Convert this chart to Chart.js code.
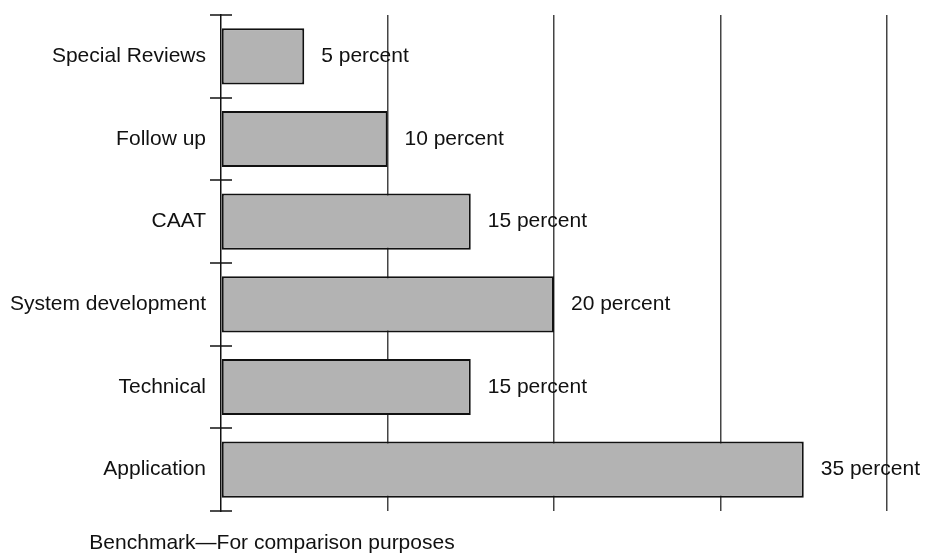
<!DOCTYPE html>
<html>
<head>
<meta charset="utf-8">
<script src="https://cdn.jsdelivr.net/npm/chart.js@4/dist/chart.umd.min.js"></script>
<style>
  html, body { margin: 0; padding: 0; background: #fff; }
  canvas { display: block; }
</style>
</head>
<body>
<canvas id="auditChart" width="927" height="555"></canvas>
<script>
const categories = ["Special Reviews", "Follow up", "CAAT", "System development", "Technical", "Application"];
const shares = [5, 10, 15, 20, 15, 35];
const xTicks = [0, 10, 20, 30, 40];
const footnote = "Benchmark\u2014For comparison purposes";

const FONT = "'Liberation Sans', Arial, sans-serif";
const FONT_SIZE = 21;

// value labels to the right of each bar, plus the crossing ticks on the category axis
const barExtras = {
  id: 'barExtras',
  afterDatasetsDraw(chart) {
    const ctx = chart.ctx;
    const meta = chart.getDatasetMeta(0);
    ctx.save();
    ctx.font = FONT_SIZE + 'px ' + FONT;
    ctx.fillStyle = '#111';
    ctx.textAlign = 'left';
    ctx.textBaseline = 'middle';
    meta.data.forEach((bar, i) => {
      ctx.fillText(shares[i] + ' percent', bar.x + 17, bar.y);
    });
    ctx.restore();
  },
  afterDraw(chart) {
    const ctx = chart.ctx;
    const y = chart.scales.y;
    const left = chart.chartArea.left;
    ctx.save();
    ctx.strokeStyle = '#111';
    ctx.lineWidth = 1.5;
    for (let i = 0; i <= categories.length; i++) {
      const py = Math.round(y.getPixelForValue(i - 0.5));
      ctx.beginPath();
      ctx.moveTo(left - 11, py);
      ctx.lineTo(left + 11, py);
      ctx.stroke();
    }
    ctx.font = FONT_SIZE + 'px ' + FONT;
    ctx.fillStyle = '#111';
    ctx.textAlign = 'center';
    ctx.textBaseline = 'middle';
    ctx.fillText(footnote, left + 51, 543);
    ctx.restore();
  }
};

new Chart(document.getElementById('auditChart'), {
  type: 'bar',
  data: {
    labels: categories,
    datasets: [{
      data: shares,
      backgroundColor: '#b3b3b3',
      borderColor: '#111',
      borderWidth: 2,
      borderSkipped: false,
      categoryPercentage: 1,
      barPercentage: 0.68
    }]
  },
  options: {
    indexAxis: 'y',
    responsive: false,
    animation: false,
    layout: { padding: { top: 15, right: 40, bottom: 44, left: 0 } },
    plugins: {
      legend: { display: false },
      tooltip: { enabled: false }
    },
    scales: {
      x: {
        min: xTicks[0],
        max: xTicks[xTicks.length - 1],
        afterBuildTicks: (scale) => { scale.ticks = xTicks.map(v => ({ value: v })); },
        ticks: { display: false },
        grid: {
          color: (c) => c.tick && c.tick.value === 0 ? 'rgba(0,0,0,0)' : '#444',
          lineWidth: 1.5,
          drawTicks: false
        },
        border: { display: false }
      },
      y: {
        afterFit: (scale) => {
          scale.width = 221;
          scale.paddingTop = 0;
          scale.paddingBottom = 0;
        },
        ticks: {
          color: '#111',
          font: { family: FONT, size: FONT_SIZE },
          padding: 15
        },
        grid: { display: false, drawTicks: false },
        border: { display: true, color: '#111', width: 1.5 }
      }
    }
  },
  plugins: [barExtras]
});
</script>
</body>
</html>
